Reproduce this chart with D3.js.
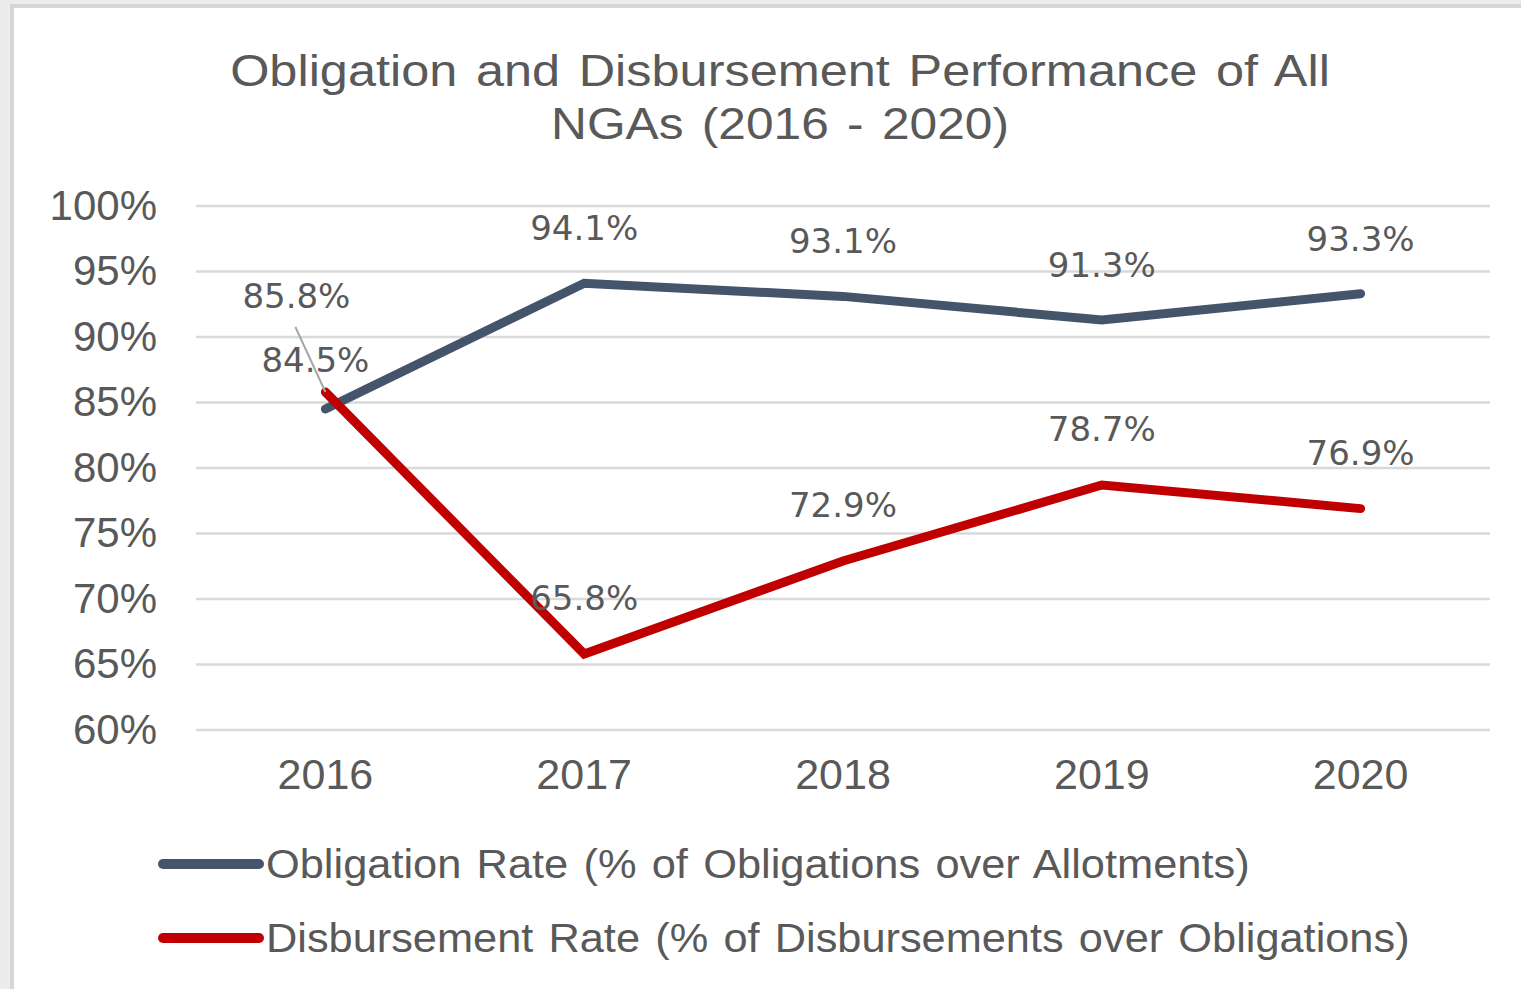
<!DOCTYPE html>
<html>
  <head>
    <meta charset="utf-8">
    <script src="https://cdn.jsdelivr.net/npm/d3@7"></script>
    <style type="text/css">
      body { margin: 0; background: #ececec; }
      .axis text { font-family: "Liberation Sans", Arial, sans-serif; fill: #595959; }
      .axis path, .axis line { display: none; }
      .dlabel { font-family: "DejaVu Sans", sans-serif; font-size: 34px; fill: #595959; text-anchor: middle; }
    </style>
  </head>
  <body>
    <div class="plot_canvas"></div>
    <script>
      // data
      var years = ["2016", "2017", "2018", "2019", "2020"];
      var obligation = [84.5, 94.1, 93.1, 91.3, 93.3];
      var disbursement = [85.8, 65.8, 72.9, 78.7, 76.9];
      var yTicks = [60, 65, 70, 75, 80, 85, 90, 95, 100];
      var titleLines = ["Obligation and Disbursement Performance of All", "NGAs (2016 - 2020)"];
      var seriesNames = ["Obligation Rate (% of Obligations over Allotments)",
                         "Disbursement Rate (% of Disbursements over Obligations)"];

      var col_grey = "#595959";
      var col_blue = "#44546A";
      var col_red = "#C00000";

      var width = 1521;
      var height = 989;
      var margin = {top: 206, right: 31, bottom: 259, left: 196};

      var svg = d3.select(".plot_canvas")
        .append("svg")
        .attr("width", width)
        .attr("height", height);

      // the original text is a bit stretched sideways; squeeze/stretch to the measured width
      function fitWidth(sel, widths, ax) {
        sel.each(function (d, i) {
          var node = d3.select(this);
          var natural = this.getComputedTextLength();
          var sx = widths[i] / natural;
          var x0 = typeof ax === "function" ? ax(d, i) : ax;
          node.attr("transform", "translate(" + x0 + ",0) scale(" + sx + ",1) translate(" + (-x0) + ",0)");
        });
      }

      // frame
      svg.append("rect")
        .attr("x", 12).attr("y", 6)
        .attr("width", width + 20).attr("height", height + 20)
        .attr("fill", "white")
        .attr("stroke", "#d6d6d6")
        .attr("stroke-width", 4);

      var xScale = d3.scaleBand()
        .domain(years)
        .range([margin.left, width - margin.right]);

      var yScale = d3.scaleLinear()
        .domain([60, 100])
        .range([height - margin.bottom, margin.top]);

      // title
      var titleWidths = [1100, 458];
      var title = svg.selectAll(".title")
        .data(titleLines).enter()
        .append("text")
        .attr("class", "title")
        .attr("x", 780)
        .attr("y", function (d, i) { return 86 + i * 53; })
        .attr("text-anchor", "middle")
        .style("font-family", "'Liberation Sans', Arial, sans-serif")
        .style("font-size", "44px")
        .style("word-spacing", "4px")
        .style("fill", col_grey)
        .text(function (d) { return d; });
      fitWidth(title, titleWidths, 780);

      // gridlines
      svg.append("g")
        .selectAll("line")
        .data(yTicks).enter()
        .append("line")
        .attr("x1", margin.left)
        .attr("x2", width - margin.right)
        .attr("y1", function (d) { return yScale(d); })
        .attr("y2", function (d) { return yScale(d); })
        .attr("stroke", "#d9d9d9")
        .attr("stroke-width", 2.5);

      // axes
      var yAxis = d3.axisLeft(yScale)
        .tickValues(yTicks)
        .tickSize(0)
        .tickPadding(39)
        .tickFormat(function (d) { return d + "%"; });
      svg.append("g")
        .attr("class", "axis")
        .attr("transform", "translate(" + margin.left + ",0)")
        .call(yAxis)
        .selectAll("text")
        .style("font-size", "42px")
        .attr("dy", "0.32em");

      var xAxis = d3.axisBottom(xScale).tickSize(0).tickPadding(28);
      svg.append("g")
        .attr("class", "axis")
        .attr("transform", "translate(0," + (height - margin.bottom) + ")")
        .call(xAxis)
        .selectAll("text")
        .style("font-size", "43px");

      // lines
      var line = d3.line()
        .x(function (d, i) { return xScale(years[i]) + xScale.bandwidth() / 2; })
        .y(function (d) { return yScale(d); });

      svg.append("path")
        .attr("d", line(obligation))
        .attr("fill", "none")
        .attr("stroke", col_blue)
        .attr("stroke-width", 9)
        .attr("stroke-linecap", "round");

      svg.append("path")
        .attr("d", line(disbursement))
        .attr("fill", "none")
        .attr("stroke", col_red)
        .attr("stroke-width", 9)
        .attr("stroke-linecap", "round");

      // leader line for the moved 2016 disbursement label
      var cx0 = xScale(years[0]) + xScale.bandwidth() / 2;
      svg.append("line")
        .attr("x1", cx0 - 30).attr("y1", yScale(disbursement[0]) - 65)
        .attr("x2", cx0).attr("y2", yScale(disbursement[0]))
        .attr("stroke", "#a6a6a6")
        .attr("stroke-width", 2);

      // data labels (first point of each series was moved by hand in the original)
      var oblShift = [{dx: -10, dy: -37}, {dx: 0, dy: -43}, {dx: 0, dy: -43}, {dx: 0, dy: -43}, {dx: 0, dy: -43}];
      var disShift = [{dx: -29, dy: -84}, {dx: 0, dy: -44}, {dx: 0, dy: -44}, {dx: 0, dy: -44}, {dx: 0, dy: -44}];

      svg.append("g").selectAll("text")
        .data(obligation).enter()
        .append("text")
        .attr("class", "dlabel")
        .attr("x", function (d, i) { return xScale(years[i]) + xScale.bandwidth() / 2 + oblShift[i].dx; })
        .attr("y", function (d, i) { return yScale(d) + oblShift[i].dy; })
        .text(function (d) { return d.toFixed(1) + "%"; });

      svg.append("g").selectAll("text")
        .data(disbursement).enter()
        .append("text")
        .attr("class", "dlabel")
        .attr("x", function (d, i) { return xScale(years[i]) + xScale.bandwidth() / 2 + disShift[i].dx; })
        .attr("y", function (d, i) { return yScale(d) + disShift[i].dy; })
        .text(function (d) { return d.toFixed(1) + "%"; });

      // legend
      var legendCols = [col_blue, col_red];
      var legendWidths = [984, 1144];
      var legend = svg.append("g").selectAll("g")
        .data(seriesNames).enter()
        .append("g")
        .attr("transform", function (d, i) { return "translate(0," + (864 + i * 74) + ")"; });

      legend.append("line")
        .attr("x1", 163).attr("x2", 259)
        .attr("stroke", function (d, i) { return legendCols[i]; })
        .attr("stroke-width", 10)
        .attr("stroke-linecap", "round");

      var legendText = legend.append("text")
        .attr("x", 266)
        .attr("y", 14)
        .style("font-family", "'Liberation Sans', Arial, sans-serif")
        .style("font-size", "41px")
        .style("word-spacing", "3px")
        .style("fill", col_grey)
        .text(function (d) { return d; });
      fitWidth(legendText, legendWidths, 266);
    </script>
  </body>
</html>
